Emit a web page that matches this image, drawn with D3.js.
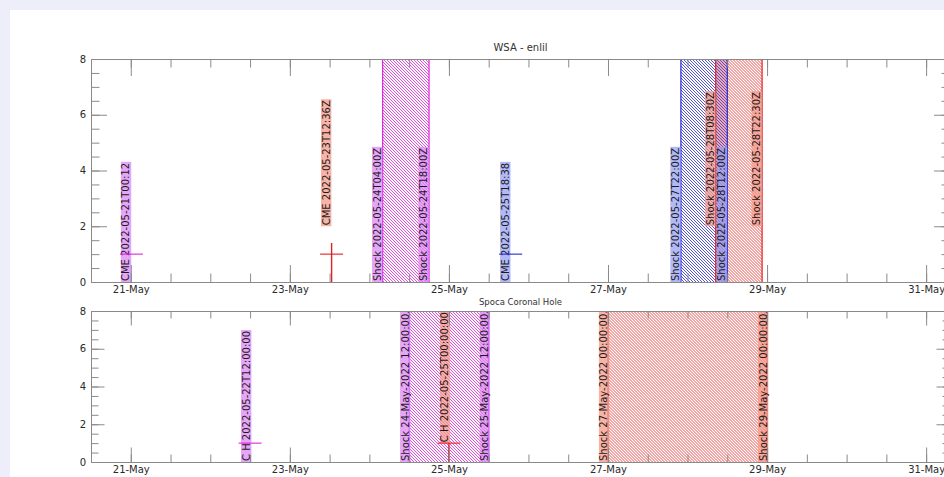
<!DOCTYPE html>
<html>
<head>
<meta charset="utf-8">
<script src="https://cdn.jsdelivr.net/npm/d3@7"></script>
<style>
  html, body { margin: 0; background: #eeeefa; overflow: hidden; }
  svg { display: block; font-family: "DejaVu Sans", sans-serif; }
</style>
</head>
<body>
<svg id="chart" width="944" height="477"></svg>
<script>
// axis ranges
const xDomain = ["2022-05-20T12:00", "2022-05-31T07:12"];
const yDomain = [0, 8];
const yMajorTicks = [0, 2, 4, 6, 8];

// ---- WSA - enlil panel
const wsaShockStart = ["2022-05-24T04:00", "2022-05-27T22:00", "2022-05-28T08:30"];
const wsaShockEnd   = ["2022-05-24T18:00", "2022-05-28T12:00", "2022-05-28T22:30"];
const wsaShockColor = ["violet", "blue", "red"];

const wsaLabelText = ["CME 2022-05-21T00:12", "CME 2022-05-23T12:36Z", "Shock 2022-05-24T04:00Z",
  "Shock 2022-05-24T18:00Z", "CME 2022-05-25T18:38", "Shock 2022-05-27T22:00Z",
  "Shock 2022-05-28T08:30Z", "Shock 2022-05-28T12:00Z", "Shock 2022-05-28T22:30Z"];
const wsaLabelTime = ["2022-05-21T00:12", "2022-05-23T12:36", "2022-05-24T04:00",
  "2022-05-24T18:00", "2022-05-25T18:38", "2022-05-27T22:00",
  "2022-05-28T08:30", "2022-05-28T12:00", "2022-05-28T22:30"];
const wsaLabelBase  = [0, 2, 0, 0, 0, 0, 2, 0, 2];
const wsaLabelColor = ["violet", "red", "violet", "violet", "blue", "blue", "red", "blue", "red"];

const wsaCmeTime  = ["2022-05-21T00:12", "2022-05-23T12:36", "2022-05-25T18:38"];
const wsaCmeValue = [1, 1, 1];
const wsaCmeLow   = [1, 0, 1];
const wsaCmeHigh  = [1, 1.4, 1];
const wsaCmeColor = ["violet", "red", "blue"];

// ---- Spoca Coronal Hole panel
const spocaShockStart = ["2022-05-24T12:00", "2022-05-27T00:00"];
const spocaShockEnd   = ["2022-05-25T12:00", "2022-05-29T00:00"];
const spocaShockColor = ["violet", "red"];

const spocaLabelText = ["C H 2022-05-22T12:00:00", "Shock 24-May-2022 12:00:00.000",
  "C H 2022-05-25T00:00:00", "Shock 25-May-2022 12:00:00.000",
  "Shock 27-May-2022 00:00:00.000", "Shock 29-May-2022 00:00:00.000"];
const spocaLabelTime = ["2022-05-22T12:00", "2022-05-24T12:00", "2022-05-25T00:00",
  "2022-05-25T12:00", "2022-05-27T00:00", "2022-05-29T00:00"];
const spocaLabelBase  = [0, 0, 1, 0, 0, 0];
const spocaLabelColor = ["violet", "violet", "red", "violet", "red", "red"];

const spocaChTime  = ["2022-05-22T12:00", "2022-05-25T00:00"];
const spocaChValue = [1, 1];
const spocaChLow   = [1, 0];
const spocaChHigh  = [1, 1];
const spocaChColor = ["violet", "red"];

// colours
const lineColor = {violet: "#e020e0", blue: "#2828d0", red: "#e02020"};
const boxColor  = {violet: "#dd88f5", blue: "#9aa2f4", red: "#f6998a"};
const hatchShift = {violet: 0, blue: 0, red: 1.5};
const axisGray = "#8a8a8a";

const parseT = d3.utcParse("%Y-%m-%dT%H:%M");

const svg = d3.select("#chart");
svg.append("rect").attr("width", 944).attr("height", 477).attr("fill", "#eeeefa");
svg.append("rect").attr("x", 10).attr("y", 10).attr("width", 934).attr("height", 467).attr("fill", "#fff");

// diagonal hatch, 3px apart horizontally
const defs = svg.append("defs");
Object.keys(lineColor).forEach(k => {
  const p = defs.append("pattern")
    .attr("id", "hatch-" + k)
    .attr("patternUnits", "userSpaceOnUse")
    .attr("x", hatchShift[k]).attr("y", 0)
    .attr("width", 3).attr("height", 3);
  p.append("path")
    .attr("d", "M-1,-1L4,4M-1,2L1,4M2,-1L4,1")
    .attr("stroke", lineColor[k]).attr("stroke-width", 0.8);
});

const x = d3.scaleUtc().domain(xDomain.map(parseT)).range([91, 950]);

function drawPanel(cfg) {
  const y = d3.scaleLinear().domain(yDomain).range([cfg.bottom, cfg.top]);
  const clipId = "clip-" + cfg.name;
  defs.append("clipPath").attr("id", clipId)
    .append("rect").attr("x", 91).attr("y", cfg.top).attr("width", 859).attr("height", cfg.bottom - cfg.top);

  const g = svg.append("g").attr("clip-path", `url(#${clipId})`);

  // hatched shock intervals
  cfg.start.forEach((s, i) => {
    const x0 = x(parseT(s)), x1 = x(parseT(cfg.end[i]));
    g.append("rect")
      .attr("x", x0).attr("y", cfg.top)
      .attr("width", x1 - x0).attr("height", cfg.bottom - cfg.top)
      .attr("fill", `url(#hatch-${cfg.color[i]})`);
  });
  cfg.start.forEach((s, i) => {
    [s, cfg.end[i]].forEach(t => {
      g.append("line")
        .attr("x1", x(parseT(t))).attr("x2", x(parseT(t)))
        .attr("y1", cfg.top).attr("y2", cfg.bottom)
        .attr("stroke", lineColor[cfg.color[i]]).attr("stroke-width", 1.2);
    });
  });

  // rotated event labels
  cfg.labels.forEach((txt, i) => {
    const ex = x(parseT(cfg.labelTime[i])) + cfg.labelOff;
    const lg = g.append("g")
      .attr("transform", `translate(${ex - 1},${y(cfg.labelBase[i])}) rotate(-90)`);
    const box = lg.append("rect");
    const t = lg.append("text")
      .attr("x", 1).attr("y", -1)
      .attr("font-size", 10).attr("fill", "#1a1a1a")
      .text(txt);
    const w = t.node().getComputedTextLength();
    box.attr("x", 0).attr("y", -9.6).attr("width", w + 2).attr("height", 10.4)
      .attr("fill", boxColor[cfg.labelColor[i]]).attr("fill-opacity", 0.75);
  });

  // event markers
  cfg.crossTime.forEach((t, i) => {
    const cx = x(parseT(t));
    const c = lineColor[cfg.crossColor[i]];
    g.append("line")
      .attr("x1", cx - 11.5).attr("x2", cx + 11.5)
      .attr("y1", y(cfg.crossValue[i])).attr("y2", y(cfg.crossValue[i]))
      .attr("stroke", c).attr("stroke-width", 1.1);
    if (cfg.crossHigh[i] > cfg.crossLow[i]) {
      g.append("line")
        .attr("x1", cx).attr("x2", cx)
        .attr("y1", y(cfg.crossLow[i])).attr("y2", y(cfg.crossHigh[i]))
        .attr("stroke", c).attr("stroke-width", 1.4);
    }
  });

  // axes, ticks pointing inward
  const majorX = d3.utcDay.every(2);
  const minorX = d3.utcHour.every(12);
  const fmt = d3.utcFormat("%d-%b");

  const axes = svg.append("g").attr("font-size", 11);
  axes.append("g").attr("transform", `translate(0,${cfg.bottom})`)
    .call(d3.axisBottom(x).ticks(majorX).tickFormat(fmt).tickSize(-cfg.majorLen).tickSizeOuter(0).tickPadding(3.5));
  axes.append("g").attr("transform", `translate(0,${cfg.bottom})`)
    .call(d3.axisBottom(x).ticks(minorX).tickFormat("").tickSize(-cfg.minorLen).tickSizeOuter(0));
  axes.append("g").attr("transform", `translate(0,${cfg.top})`)
    .call(d3.axisTop(x).ticks(majorX).tickFormat("").tickSize(-cfg.majorLen).tickSizeOuter(0));
  axes.append("g").attr("transform", `translate(0,${cfg.top})`)
    .call(d3.axisTop(x).ticks(minorX).tickFormat("").tickSize(-cfg.minorLen).tickSizeOuter(0));

  const yMinor = d3.range(yDomain[0], yDomain[1] + 0.01, 0.5);
  axes.append("g").attr("transform", "translate(91,0)")
    .call(d3.axisLeft(y).tickValues(yMajorTicks).tickFormat(d3.format("d")).tickSize(-cfg.majorLen + 1).tickSizeOuter(0).tickPadding(5));
  axes.append("g").attr("transform", "translate(91,0)")
    .call(d3.axisLeft(y).tickValues(yMinor).tickFormat("").tickSize(-cfg.minorLen).tickSizeOuter(0));
  axes.append("g").attr("transform", "translate(950,0)")
    .call(d3.axisRight(y).tickValues(yMajorTicks).tickFormat("").tickSize(-cfg.majorLen + 1).tickSizeOuter(0));
  axes.append("g").attr("transform", "translate(950,0)")
    .call(d3.axisRight(y).tickValues(yMinor).tickFormat("").tickSize(-cfg.minorLen).tickSizeOuter(0));

  axes.selectAll("path.domain").attr("stroke", axisGray);
  axes.selectAll(".tick line").attr("stroke", axisGray);
  axes.selectAll("text").attr("fill", "#2a2a2a").attr("font-family", "DejaVu Sans, sans-serif");

  svg.append("text")
    .attr("x", 520.5).attr("y", cfg.titleY)
    .attr("text-anchor", "middle")
    .attr("font-size", cfg.titleSize).attr("fill", "#333")
    .text(cfg.title);
}

drawPanel({
  name: "wsa", title: "WSA - enlil", titleY: 51, titleSize: 10,
  top: 59, bottom: 282, majorLen: 17, minorLen: 8.5, labelOff: 0,
  start: wsaShockStart, end: wsaShockEnd, color: wsaShockColor,
  labels: wsaLabelText, labelTime: wsaLabelTime, labelBase: wsaLabelBase, labelColor: wsaLabelColor,
  crossTime: wsaCmeTime, crossValue: wsaCmeValue, crossLow: wsaCmeLow, crossHigh: wsaCmeHigh, crossColor: wsaCmeColor
});

drawPanel({
  name: "spoca", title: "Spoca Coronal Hole", titleY: 305, titleSize: 8.5,
  top: 311, bottom: 462, majorLen: 14.5, minorLen: 7.5, labelOff: 1.5,
  start: spocaShockStart, end: spocaShockEnd, color: spocaShockColor,
  labels: spocaLabelText, labelTime: spocaLabelTime, labelBase: spocaLabelBase, labelColor: spocaLabelColor,
  crossTime: spocaChTime, crossValue: spocaChValue, crossLow: spocaChLow, crossHigh: spocaChHigh, crossColor: spocaChColor
});
</script>
</body>
</html>
